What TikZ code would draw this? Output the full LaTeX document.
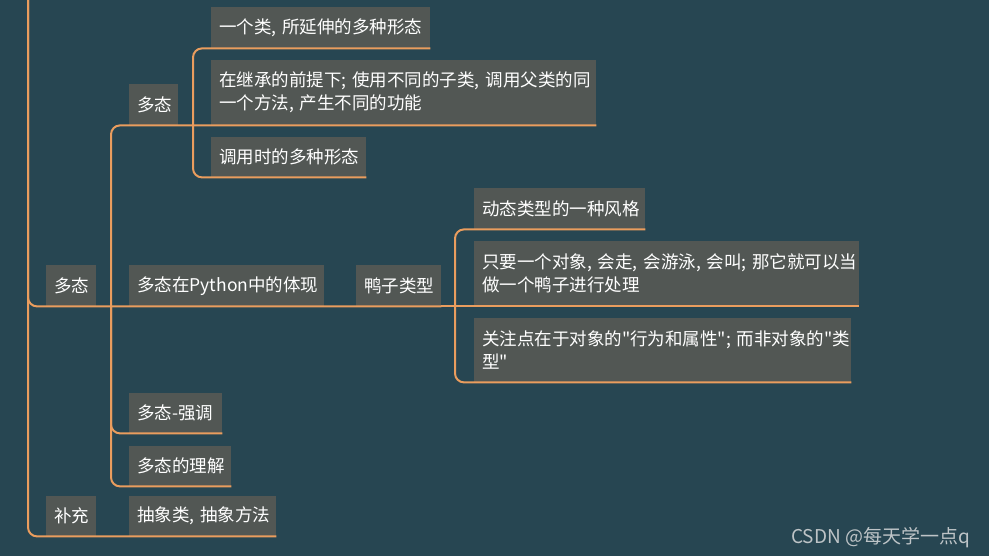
\documentclass[tikz,border=0pt]{standalone}
\usepackage{fontspec}
\setmainfont{Noto Sans CJK SC}[Ligatures=TeXOff]
\definecolor{bg}{RGB}{39,70,82}
\definecolor{boxc}{RGB}{82,87,84}
\definecolor{org}{RGB}{234,157,94}
\definecolor{wmc}{RGB}{190,196,199}
\begin{document}
\begin{tikzpicture}[x=1pt,y=-1pt,
  box/.style={fill=boxc, text=white, anchor=north west, inner xsep=8pt, inner ysep=0pt,
    align=left, font=\fontsize{17.5}{23}\selectfont},
  conn/.style={draw=org, line width=2pt, rounded corners=9pt}]
\fill[bg] (0,0) rectangle (989,556);
\useasboundingbox (0,0) rectangle (989,556);

% level 1
\node[box, text width=34pt, minimum height=41pt] (duo1) at (46,265) {\mbox{多态}};
\node[box, text width=34pt, minimum height=40pt] (buchong) at (46,496) {\mbox{补充}};
% level 2
\node[box, text width=33pt, minimum height=41pt] (duo2) at (129,84) {\mbox{多态}};
\node[box, text width=179pt, minimum height=41pt] (python) at (129,265) {\mbox{多态在Python中的体现}};
\node[box, text width=77pt, minimum height=40pt] (qiangdiao) at (129,393) {\mbox{多态-强调}};
\node[box, text width=86pt, minimum height=40pt] (lijie) at (129,446) {\mbox{多态的理解}};
\node[box, text width=131pt, minimum height=40pt] (chouxiang) at (129,496) {\mbox{抽象类, 抽象方法}};
% level 3 (upper)
\node[box, text width=203pt, minimum height=41pt] (yige) at (211,7) {\mbox{一个类, 所延伸的多种形态}};
\node[box, text width=369pt, minimum height=65pt] (inherit) at (211,60) {\mbox{在继承的前提下; 使用不同的子类, 调用父类的同}\\\mbox{一个方法, 产生不同的功能}};
\node[box, text width=139pt, minimum height=40pt] (diaoyong) at (211,137) {\mbox{调用时的多种形态}};
% duck
\node[box, text width=69pt, minimum height=41pt] (duck) at (356,265) {\mbox{鸭子类型}};
\node[box, text width=155pt, minimum height=41pt] (dtype) at (474,188) {\mbox{动态类型的一种风格}};
\node[box, text width=369pt, minimum height=65pt] (only) at (474,241) {\mbox{只要一个对象, 会走, 会游泳, 会叫; 那它就可以当}\\\mbox{做一个鸭子进行处理}};
\node[box, text width=361pt, minimum height=64pt] (focus) at (474,318) {\mbox{关注点在于对象的"行为和属性"; 而非对象的"类}\\\mbox{型"}};

% branch points
\coordinate (rootTop) at (28,0);
\coordinate (b2) at (111,306);
\coordinate (b3) at (193,125);
\coordinate (bD) at (455,306);

% connectors
\draw[conn] (rootTop) |- (duck.south east);
\draw[conn] (rootTop) |- (chouxiang.south east);
\draw[conn] (duck.south east) -- (only.south east);
\draw[conn] (inherit.south east) -| (b2);
\draw[conn] (qiangdiao.south east) -| (b2);
\draw[conn] (lijie.south east) -| (b2);
\draw[conn] (yige.south east) -| (b3);
\draw[conn] (diaoyong.south east) -| (b3);
\draw[conn] (dtype.south east) -| (bD);
\draw[conn] (focus.south east) -| (bD);

% watermark
\node[anchor=base west, text=wmc, inner sep=0pt, font=\fontsize{19}{20}\selectfont] (wm) at (791,543) {CSDN @每天学一点q};
\end{tikzpicture}
\end{document}
